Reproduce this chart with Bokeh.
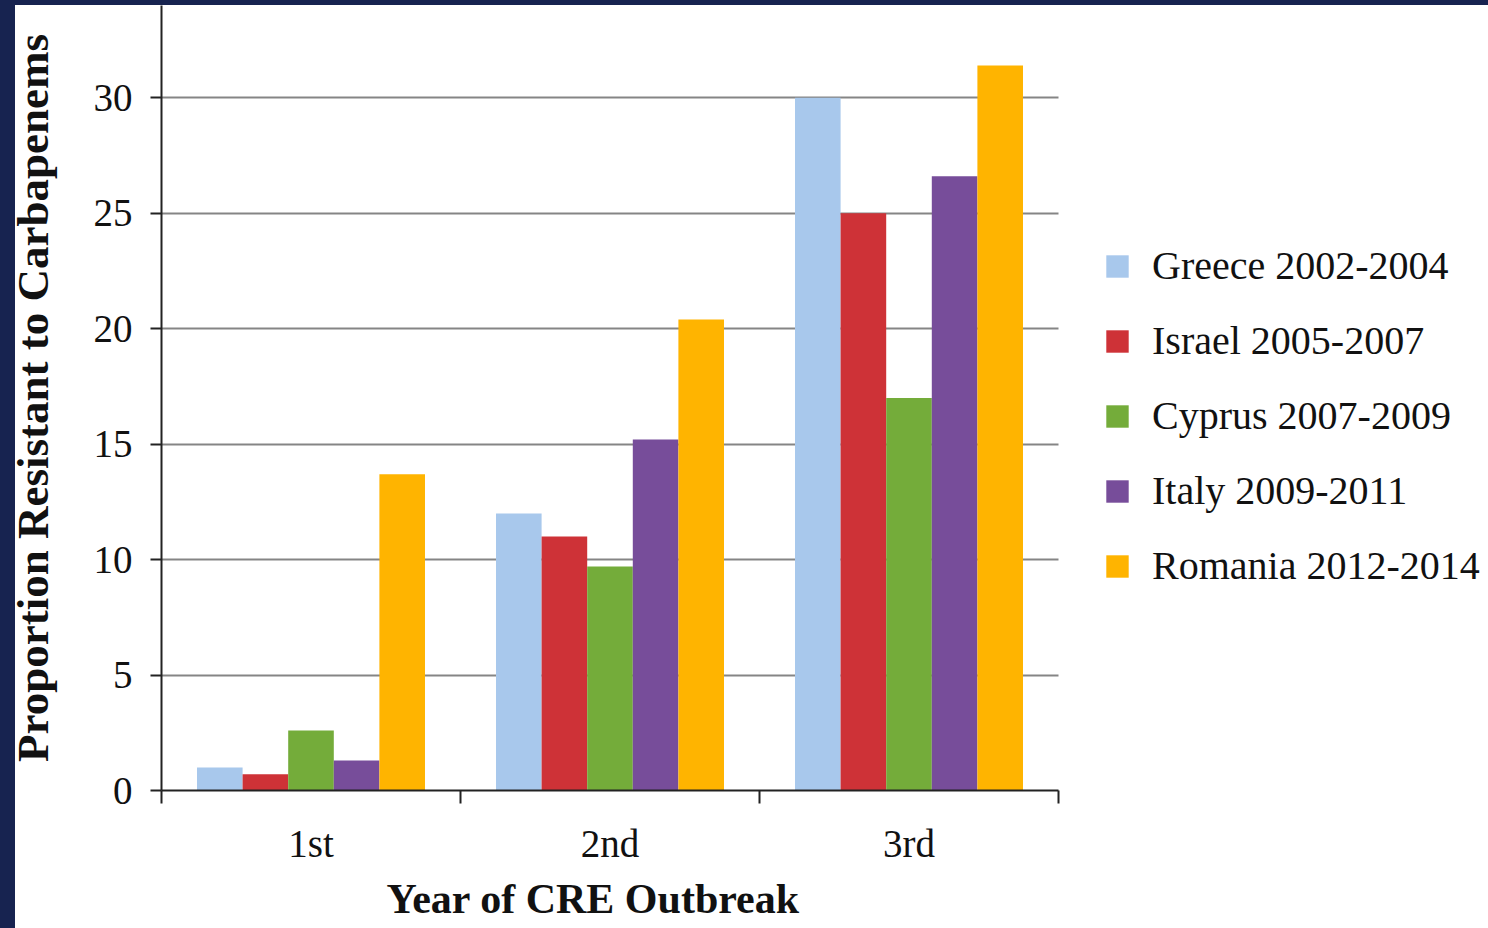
import numpy as np
from bokeh.plotting import figure
from bokeh.models import (ColumnDataSource, Range1d, FixedTicker, Legend, LegendItem,
                          Title)
from bokeh.transform import dodge
from bokeh.embed import file_html
from bokeh.resources import INLINE

# ---- data ----
categories = ["1st", "2nd", "3rd"]
series_names = ["Greece 2002-2004", "Israel 2005-2007", "Cyprus 2007-2009",
                "Italy 2009-2011", "Romania 2012-2014"]
greece = [1.0, 12.0, 30.0]
israel = [0.7, 11.0, 25.0]
cyprus = [2.6, 9.7, 17.0]
italy = [1.3, 15.2, 26.6]
romania = [13.7, 20.4, 31.4]
y_ticks = [0, 5, 10, 15, 20, 25, 30]

colors = ["#A8C8EC", "#CE3237", "#74AC3A", "#774D9A", "#FFB400"]
FONT = "Liberation Serif"

ncat = len(categories)
xpos = np.arange(ncat) + 0.5
source = ColumnDataSource(dict(x=xpos, greece=greece, israel=israel,
                               cyprus=cyprus, italy=italy, romania=romania))

# the plotting frame runs to the right edge; the category axis occupies 897 px of it
W, H = 1488, 928
LEFT, BOTTOM, TOP = 161, 138, 5
cat_px = 897
x_end = ncat * (W - LEFT) / cat_px

p = figure(width=W, height=H, output_backend="svg", toolbar_location=None,
           x_range=Range1d(0, x_end), y_range=Range1d(0, 34),
           min_border_left=LEFT, min_border_right=0, min_border_top=TOP,
           min_border_bottom=BOTTOM)
p.border_fill_color = "white"
p.background_fill_color = "white"
p.outline_line_color = None

# horizontal grid lines limited to the category area
p.xgrid.visible = False
try:
    p.ygrid.cross_bounds = (0, ncat)
    p.ygrid.grid_line_color = "#858585"
    p.ygrid.grid_line_width = 2
except Exception:
    p.ygrid.visible = False
    p.segment(x0=0, x1=ncat, y0=y_ticks, y1=y_ticks, line_color="#858585", line_width=2)

bw = 0.1525
offsets = [-2 * bw, -bw, 0, bw, 2 * bw]
cols = ["greece", "israel", "cyprus", "italy", "romania"]
items = []
for col, off, c, name in zip(cols, offsets, colors, series_names):
    r = p.vbar(x=dodge("x", off, range=p.x_range), top=col, width=bw, bottom=0,
               source=source, fill_color=c, line_color=None)
    items.append(LegendItem(label=name, renderers=[r]))

yax = p.yaxis[0]
yax.ticker = FixedTicker(ticks=y_ticks, minor_ticks=[])
yax.axis_line_color = "#222222"
yax.axis_line_width = 2
yax.major_tick_line_color = "#222222"
yax.major_tick_line_width = 2
yax.major_tick_out = 11
yax.major_tick_in = 0
yax.minor_tick_line_color = None
yax.major_label_text_font = FONT
yax.major_label_text_font_size = "39px"
yax.major_label_text_color = "#111111"
yax.major_label_standoff = 18
yax.axis_label = "Proportion Resistant to Carbapenems"
yax.axis_label_text_font = FONT
yax.axis_label_text_font_style = "bold"
yax.axis_label_text_font_size = "45px"
yax.axis_label_text_color = "#111111"
yax.axis_label_standoff = 33

xax = p.xaxis[0]
xax.bounds = (0, ncat)
xax.ticker = FixedTicker(ticks=list(xpos), minor_ticks=list(range(ncat + 1)))
xax.major_label_overrides = {float(v): lab for v, lab in zip(xpos, categories)}
xax.axis_line_color = "#222222"
xax.axis_line_width = 2
xax.major_tick_line_color = None
xax.major_tick_out = 0
xax.major_tick_in = 0
xax.minor_tick_line_color = "#222222"
xax.minor_tick_line_width = 2
xax.minor_tick_out = 13
xax.minor_tick_in = 0
xax.major_label_text_font = FONT
xax.major_label_text_font_size = "39px"
xax.major_label_text_color = "#111111"
xax.major_label_standoff = 18

xtitle = Title(text="Year of CRE Outbreak", align="left", offset=225,
               text_font=FONT, text_font_style="bold", text_font_size="42px",
               text_color="#111111", standoff=12)
p.add_layout(xtitle, "below")

legend = Legend(items=items, location=(942, 201))
legend.label_text_font = FONT
legend.label_text_font_size = "40px"
legend.label_text_color = "#111111"
legend.glyph_width = 28
legend.glyph_height = 28
legend.label_standoff = 21
legend.spacing = 28
legend.padding = 0
legend.margin = 0
legend.border_line_color = None
legend.background_fill_alpha = 0
p.add_layout(legend, "center")

html = file_html(p, INLINE)
style = ("<style>"
         "body{margin:0;padding:0;overflow:hidden;background:#ffffff}"
         "body::before{content:'';position:fixed;left:0;top:0;width:15px;height:100%;"
         "background:#172350;z-index:99999}"
         "body::after{content:'';position:fixed;left:0;top:0;width:100%;height:5px;"
         "background:#172350;z-index:99999}"
         "</style>")
i = html.rfind("</head>")
html = html[:i] + style + html[i:]
open("out.html", "w").write(html)
